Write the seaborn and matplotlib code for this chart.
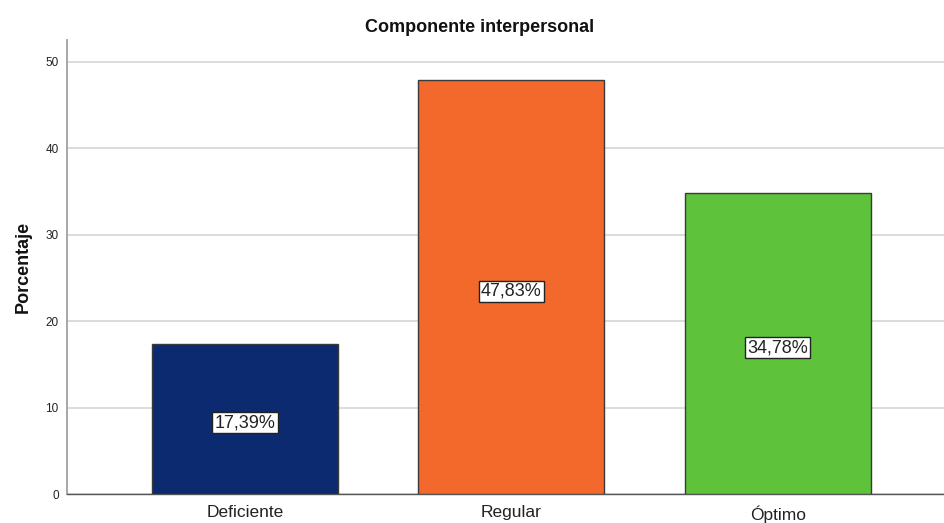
import matplotlib
matplotlib.use("Agg")
import matplotlib.pyplot as plt
import matplotlib.transforms as mtransforms
import seaborn as sns
import pandas as pd

categorias = ["Deficiente", "Regular", "Óptimo"]
porcentajes = [17.39, 47.83, 34.78]
colores = ["#0c2a6f", "#f2692b", "#5ec23a"]
ticks_y = [0, 10, 20, 30, 40, 50]

df = pd.DataFrame({"Categoria": categorias, "Porcentaje": porcentajes})

sns.set_theme(style="white")
plt.rcParams["font.family"] = ["Liberation Sans", "DejaVu Sans"]

fig = plt.figure(figsize=(9.45, 5.23), dpi=100)
ax = fig.add_axes([0.0709, 0.0554, 0.9291, 0.8681])

sns.barplot(data=df, x="Categoria", y="Porcentaje", hue="Categoria",
            palette=colores, order=categorias, legend=False, saturation=1,
            width=0.698, edgecolor="#3a3a3a", linewidth=1.0, ax=ax,
            zorder=3)

ax.set_xlim(-0.668, 2.627)
ax.set_ylim(0, 52.5)
ax.set_yticks(ticks_y)
ax.set_yticklabels([str(t) for t in ticks_y], fontsize=8.5, color="#222222")
ax.tick_params(axis="x", labelsize=12.5, colors="#222222", length=0, pad=8)
ax.tick_params(axis="y", length=0, pad=6)

ax.yaxis.grid(True, color="#d9d9d9", linewidth=1.3, zorder=0)
ax.set_axisbelow(True)

for side in ["top", "right"]:
    ax.spines[side].set_visible(False)
ax.spines["left"].set_color("#a0a0a0")
ax.spines["left"].set_linewidth(1.3)
ax.spines["bottom"].set_color("#555555")
ax.spines["bottom"].set_linewidth(1.0)

ax.set_xlabel("")
ax.set_ylabel("Porcentaje", fontsize=13, fontweight="bold", labelpad=10,
              color="#111111")
fig.text(0.508, 0.948, "Componente interpersonal", ha="center", va="center",
         fontsize=13, fontweight="bold", color="#111111")

shift = mtransforms.offset_copy(ax.transData, fig=fig, x=0, y=-4, units="dots")
for i, v in enumerate(porcentajes):
    ax.text(i, v / 2, f"{v:.2f}%".replace(".", ","), ha="center", va="center",
            fontsize=13, color="#222222", zorder=5, transform=shift,
            bbox=dict(boxstyle="square,pad=0.12", facecolor="white",
                      edgecolor="#222222", linewidth=1.0))

fig.savefig("out.png", dpi=100)
